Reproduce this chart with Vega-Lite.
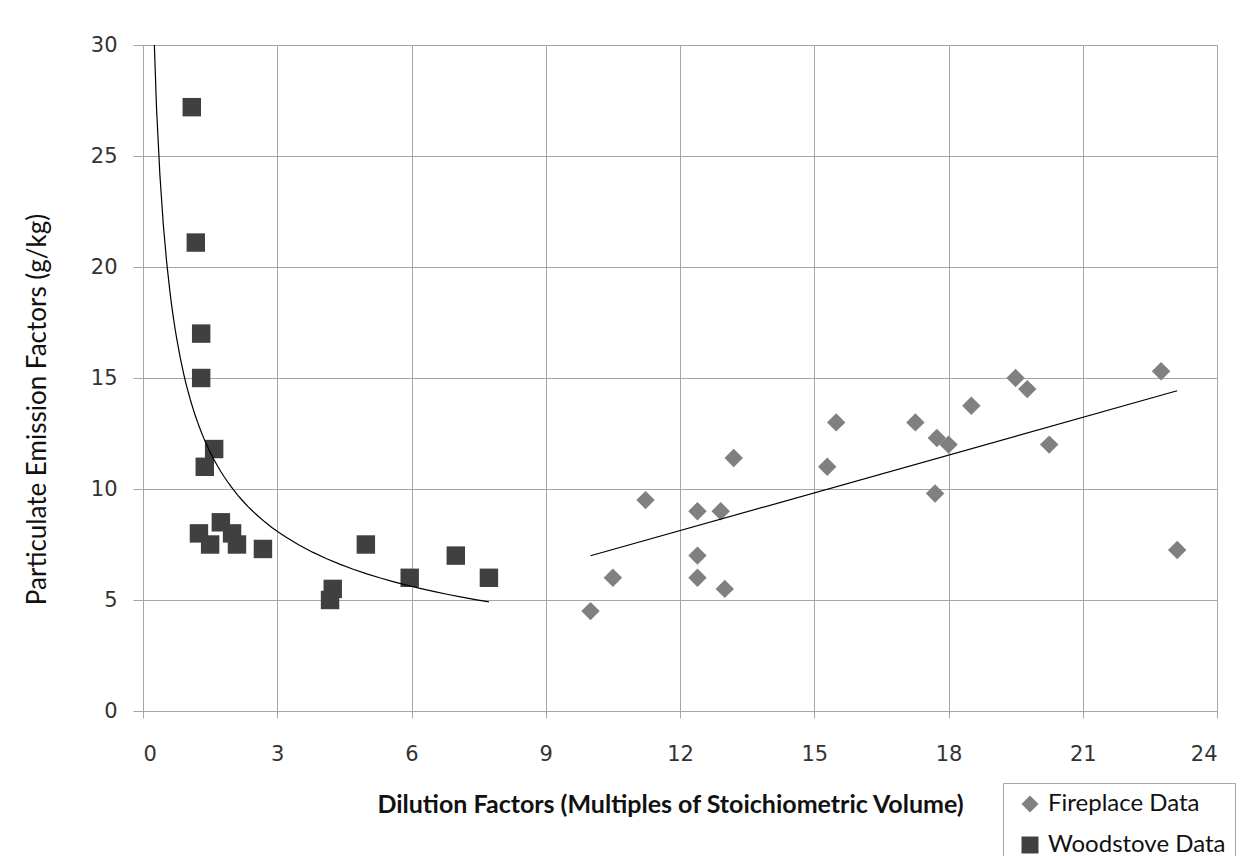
{
  "$schema": "https://vega.github.io/schema/vega-lite/v6.json",
  "width": 1074,
  "height": 666,
  "autosize": "none",
  "padding": {"left": 143, "top": 45, "right": 31, "bottom": 145},
  "background": "white",
  "config": {
    "view": {"stroke": "#a6a6a6", "strokeWidth": 1},
    "axis": {
      "gridColor": "#a6a6a6",
      "gridWidth": 1,
      "domainColor": "#a6a6a6",
      "tickColor": "#a6a6a6",
      "labelFont": "DejaVu Sans",
      "labelFontSize": 21,
      "labelColor": "#333333",
      "titleColor": "#111111"
    }
  },
  "data": {
    "values": [
      {"series": "Woodstove Data", "dilution": 1.09, "emission": 27.2},
      {"series": "Woodstove Data", "dilution": 1.18, "emission": 21.1},
      {"series": "Woodstove Data", "dilution": 1.30, "emission": 17.0},
      {"series": "Woodstove Data", "dilution": 1.30, "emission": 15.0},
      {"series": "Woodstove Data", "dilution": 1.59, "emission": 11.8},
      {"series": "Woodstove Data", "dilution": 1.38, "emission": 11.0},
      {"series": "Woodstove Data", "dilution": 1.25, "emission": 8.0},
      {"series": "Woodstove Data", "dilution": 1.74, "emission": 8.5},
      {"series": "Woodstove Data", "dilution": 1.50, "emission": 7.5},
      {"series": "Woodstove Data", "dilution": 1.99, "emission": 8.0},
      {"series": "Woodstove Data", "dilution": 2.10, "emission": 7.5},
      {"series": "Woodstove Data", "dilution": 2.68, "emission": 7.3},
      {"series": "Woodstove Data", "dilution": 4.18, "emission": 5.0},
      {"series": "Woodstove Data", "dilution": 4.24, "emission": 5.5},
      {"series": "Woodstove Data", "dilution": 4.98, "emission": 7.5},
      {"series": "Woodstove Data", "dilution": 5.96, "emission": 6.0},
      {"series": "Woodstove Data", "dilution": 6.99, "emission": 7.0},
      {"series": "Woodstove Data", "dilution": 7.73, "emission": 6.0},
      {"series": "Fireplace Data", "dilution": 10.0, "emission": 4.5},
      {"series": "Fireplace Data", "dilution": 10.5, "emission": 6.0},
      {"series": "Fireplace Data", "dilution": 11.23, "emission": 9.5},
      {"series": "Fireplace Data", "dilution": 12.39, "emission": 9.0},
      {"series": "Fireplace Data", "dilution": 12.39, "emission": 7.0},
      {"series": "Fireplace Data", "dilution": 12.39, "emission": 6.0},
      {"series": "Fireplace Data", "dilution": 12.91, "emission": 9.0},
      {"series": "Fireplace Data", "dilution": 13.0, "emission": 5.5},
      {"series": "Fireplace Data", "dilution": 13.2, "emission": 11.4},
      {"series": "Fireplace Data", "dilution": 15.29, "emission": 11.0},
      {"series": "Fireplace Data", "dilution": 15.49, "emission": 13.0},
      {"series": "Fireplace Data", "dilution": 17.26, "emission": 13.0},
      {"series": "Fireplace Data", "dilution": 17.74, "emission": 12.3},
      {"series": "Fireplace Data", "dilution": 18.0, "emission": 12.0},
      {"series": "Fireplace Data", "dilution": 17.7, "emission": 9.8},
      {"series": "Fireplace Data", "dilution": 18.51, "emission": 13.75},
      {"series": "Fireplace Data", "dilution": 19.5, "emission": 15.0},
      {"series": "Fireplace Data", "dilution": 19.76, "emission": 14.5},
      {"series": "Fireplace Data", "dilution": 20.25, "emission": 12.0},
      {"series": "Fireplace Data", "dilution": 22.75, "emission": 15.3},
      {"series": "Fireplace Data", "dilution": 23.11, "emission": 7.25}
    ]
  },
  "encoding": {
    "x": {
      "field": "dilution",
      "type": "quantitative",
      "scale": {"domain": [0, 24], "nice": false},
      "axis": {
        "values": [0, 3, 6, 9, 12, 15, 18, 21, 24],
        "tickSize": 7,
        "labelPadding": 25,
        "title": "Dilution Factors (Multiples of Stoichiometric Volume)",
        "titleFont": "Lato",
        "titleFontSize": 25,
        "titleFontWeight": "bold",
        "titleBaseline": "alphabetic",
        "titleAnchor": "middle",
        "titleX": 527,
        "titleY": 101
      }
    },
    "y": {
      "field": "emission",
      "type": "quantitative",
      "scale": {"domain": [0, 30], "nice": false},
      "axis": {
        "values": [0, 5, 10, 15, 20, 25, 30],
        "tickSize": 10,
        "labelPadding": 16,
        "title": "Particulate Emission Factors (g/kg)",
        "titleFont": "Lato",
        "titleFontSize": 26,
        "titleFontWeight": "normal",
        "titleBaseline": "middle",
        "titleAnchor": "middle",
        "titleX": -106,
        "titleY": 364
      }
    }
  },
  "layer": [
    {
      "mark": {"type": "point", "filled": true, "opacity": 1, "size": 340},
      "encoding": {
        "shape": {
          "field": "series",
          "type": "nominal",
          "scale": {"domain": ["Fireplace Data", "Woodstove Data"], "range": ["diamond", "square"]},
          "legend": null
        },
        "color": {
          "field": "series",
          "type": "nominal",
          "scale": {"domain": ["Fireplace Data", "Woodstove Data"], "range": ["#808080", "#404040"]},
          "legend": {
            "title": null,
            "orient": "none",
            "legendX": 860,
            "legendY": 738,
            "direction": "vertical",
            "symbolType": "square",
            "symbolSize": 289,
            "symbolOpacity": 1,
            "symbolStrokeWidth": 0,
            "labelFont": "Lato",
            "labelFontSize": 24,
            "labelLimit": 400,
            "labelColor": "#111111",
            "labelOffset": 6,
            "rowPadding": 17,
            "padding": 9,
            "strokeColor": "#a6a6a6",
            "fillColor": "white",
            "symbolOffset": 6
          }
        }
      }
    },
    {
      "transform": [
        {"filter": "datum.series === 'Fireplace Data'"},
        {"regression": "emission", "on": "dilution", "method": "linear"}
      ],
      "mark": {"type": "line", "color": "#000000", "strokeWidth": 1.2, "clip": true},
      "encoding": {}
    },
    {
      "transform": [
        {"filter": "datum.series === 'Woodstove Data'"},
        {"regression": "emission", "on": "dilution", "method": "pow", "extent": [0.15, 7.73]}
      ],
      "mark": {"type": "line", "color": "#000000", "strokeWidth": 1.2, "clip": true},
      "encoding": {}
    }
  ]
}
